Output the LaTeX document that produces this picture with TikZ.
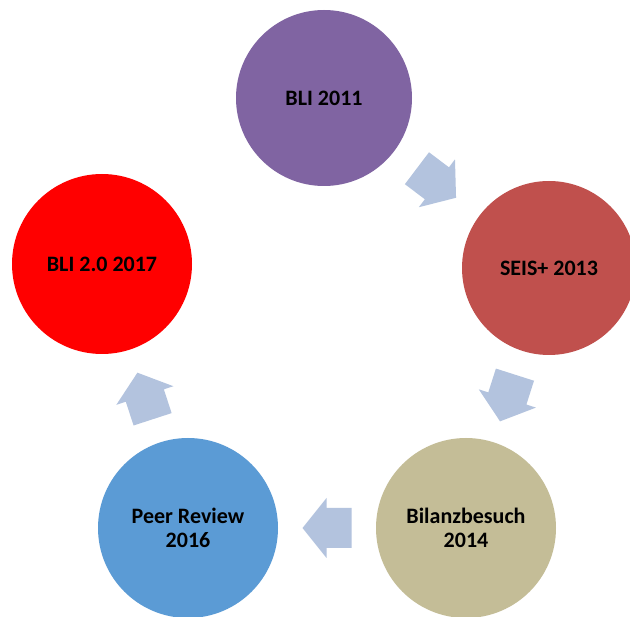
\documentclass[tikz,border=0pt]{standalone}
\usepackage{fontspec}
\setmainfont{Carlito}
\usetikzlibrary{calc}
\definecolor{cpurple}{HTML}{8064A2}
\definecolor{cbrick}{HTML}{C0504D}
\definecolor{ctan}{HTML}{C4BD97}
\definecolor{cblue}{HTML}{5B9BD5}
\definecolor{cred}{HTML}{FF0000}
\definecolor{carrow}{HTML}{B3C3DE}
\tikzset{
  stage/.style={circle, minimum size=#1, inner sep=0pt, align=center,
    font=\fontsize{22}{24}\selectfont\bfseries, text=black},
  stage/.default=180pt,
  blockarrow/.style={fill=carrow, draw=none}
}
\newcommand{\cyclearrow}[2]{%
  \fill[blockarrow] let \p1=($(#2)-(#1)$), \n1={atan2(\y1,\x1)}, \p2=($(#1)!0.5!(#2)$) in
    ($(\p2)+(\n1:24.5pt)$) --
    ($(\p2)+(\n1:0.5pt)+(\n1+90:30pt)$) --
    ($(\p2)+(\n1:0.5pt)+(\n1+90:20pt)$) --
    ($(\p2)+(\n1:-24.5pt)+(\n1+90:20pt)$) --
    ($(\p2)+(\n1:-24.5pt)+(\n1-90:20pt)$) --
    ($(\p2)+(\n1:0.5pt)+(\n1-90:20pt)$) --
    ($(\p2)+(\n1:0.5pt)+(\n1-90:30pt)$) -- cycle;}
\begin{document}
\begin{tikzpicture}[x=1pt, y=-1pt]
  \useasboundingbox (0,0) rectangle (630,617);
  \clip (0,0) rectangle (630,617);
  \fill[white] (0,0) rectangle (630,617);
  \node[stage=176pt, fill=cpurple] (bli) at (324,98) {BLI 2011};
  \node[stage=174pt, fill=cbrick] (seis) at (549,268) {SEIS+ 2013};
  \node[stage=180pt, fill=ctan] (bil) at (466,528) {Bilanzbesuch\\2014};
  \node[stage=180pt, fill=cblue] (peer) at (188,528) {Peer Review\\2016};
  \node[stage=180pt, fill=cred] (bli2) at (102,264) {BLI 2.0 2017};
  \cyclearrow{bli}{seis}
  \cyclearrow{seis}{bil}
  \cyclearrow{bil}{peer}
  \cyclearrow{peer}{bli2}
\end{tikzpicture}
\end{document}
